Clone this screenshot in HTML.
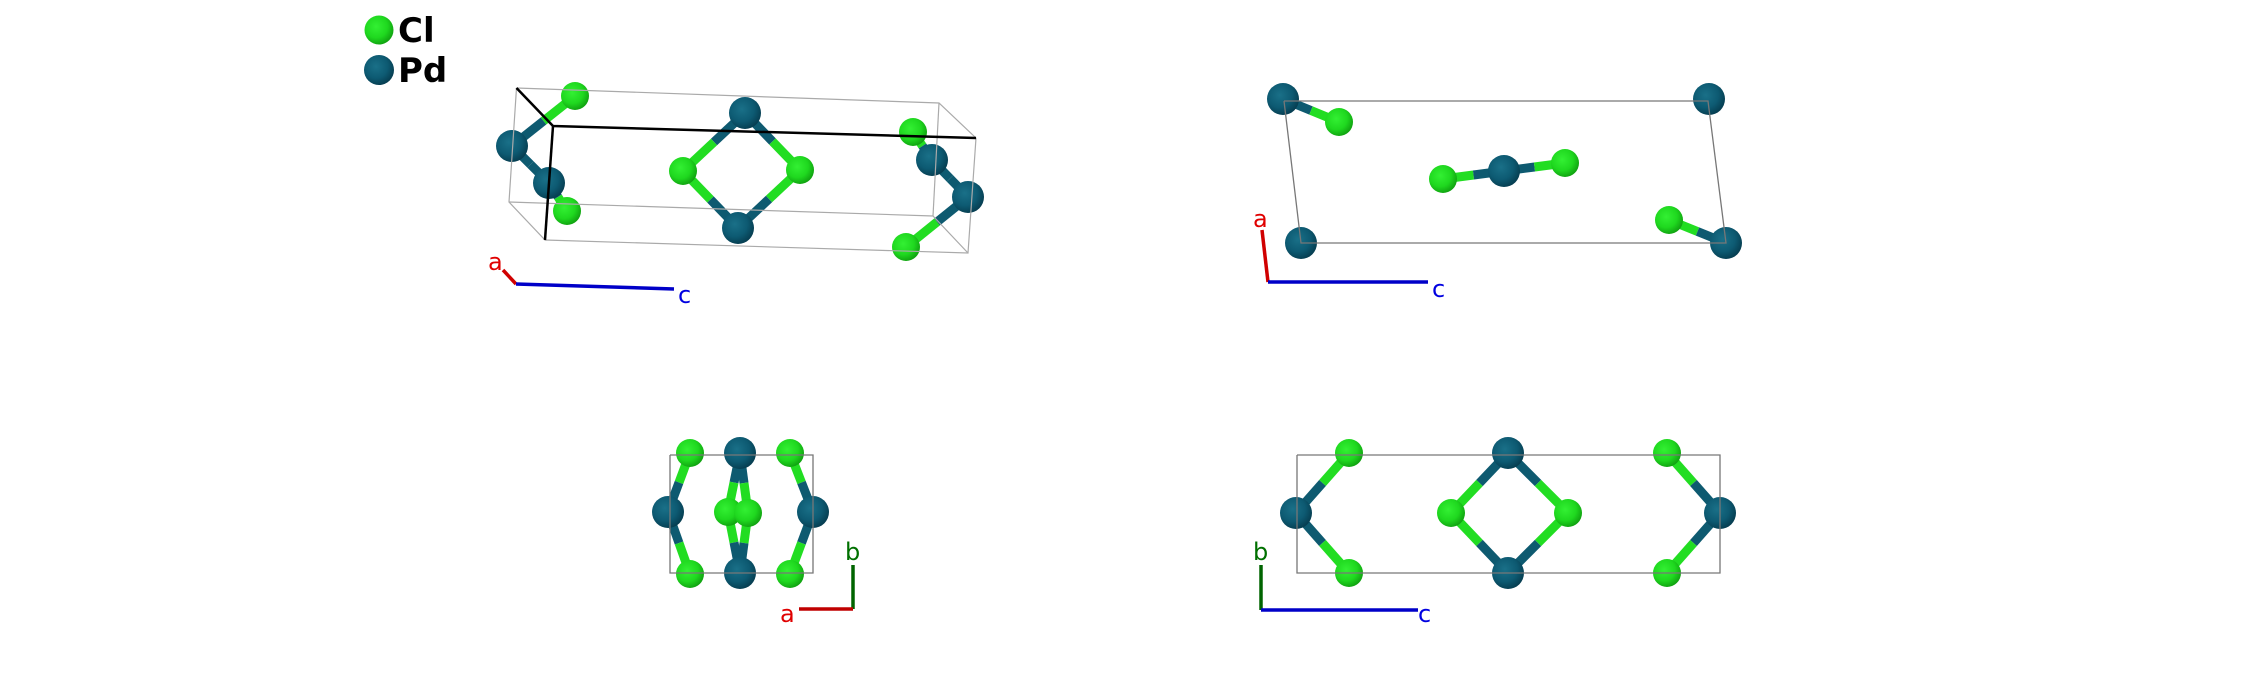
<!DOCTYPE html>
<html><head><meta charset="utf-8"><style>
html,body{margin:0;padding:0;background:#fff;width:2244px;height:686px;overflow:hidden}
svg{display:block}
text{font-family:"DejaVu Sans","Liberation Sans",sans-serif}
</style></head><body>
<svg id="s" width="2244" height="686" viewBox="0 0 2244 686" xmlns="http://www.w3.org/2000/svg">
<defs>
<radialGradient id="gcl" cx="0.4" cy="0.38" r="0.65"><stop offset="0" stop-color="#33f033"/><stop offset="0.6" stop-color="#1fd81f"/><stop offset="1" stop-color="#10a010"/></radialGradient>
<radialGradient id="gpd" cx="0.4" cy="0.38" r="0.65"><stop offset="0" stop-color="#1a7088"/><stop offset="0.6" stop-color="#0d5a72"/><stop offset="1" stop-color="#063d50"/></radialGradient>
</defs>
<g id="bonds"></g>
<g id="atoms"></g>
<g id="lines" fill="none"></g>
<g id="axes"></g>
<circle cx="379" cy="30" r="14.5" fill="url(#gcl)"/>
<circle cx="379" cy="70" r="15" fill="url(#gpd)"/>
<text x="398" y="42" font-size="34" font-weight="bold">Cl</text>
<text x="398" y="82" font-size="34" font-weight="bold">Pd</text>
<g font-size="24">
<text x="488" y="270" fill="#e00000">a</text>
<text x="678" y="303" fill="#0000e0">c</text>
<text x="1253" y="227" fill="#e00000">a</text>
<text x="1432" y="297" fill="#0000e0">c</text>
<text x="845" y="560" fill="#007000">b</text>
<text x="780" y="622" fill="#e00000">a</text>
<text x="1253" y="560" fill="#007000">b</text>
<text x="1418" y="622" fill="#0000e0">c</text>
</g>
</svg>
<script>
var NS="http://www.w3.org/2000/svg";
function el(p,t,a){var e=document.createElementNS(NS,t);for(var k in a)e.setAttribute(k,a[k]);document.getElementById(p).appendChild(e);return e;}
var CL="#22dd22",PD="#0e5a70";
var atoms=[];
function A(x,y,t){atoms.push([x,y,t]);return [x,y,t];}
function B(a,b){var mx=(a[0]+b[0])/2,my=(a[1]+b[1])/2;
 el("bonds","line",{x1:a[0],y1:a[1],x2:mx,y2:my,stroke:a[2]=="c"?CL:PD,"stroke-width":9});
 el("bonds","line",{x1:mx,y1:my,x2:b[0],y2:b[1],stroke:b[2]=="c"?CL:PD,"stroke-width":9});}
// view 1
var a1=A(575,96,"c"),a2=A(512,146,"p"),a3=A(549,183,"p"),a4=A(567,211,"c");
B(a1,a2);B(a2,a3);B(a3,a4);
var b1=A(745,113,"p"),b2=A(683,171,"c"),b3=A(800,170,"c"),b4=A(738,228,"p");
B(b1,b2);B(b1,b3);B(b2,b4);B(b3,b4);
var c1=A(913,132,"c"),c2=A(932,160,"p"),c3=A(968,197,"p"),c4=A(906,247,"c");
B(c1,c2);B(c2,c3);B(c3,c4);
// view 2
var d1=A(1283,99,"p"),d2=A(1339,122,"c");B(d1,d2);
A(1709,99,"p");
var e1=A(1669,220,"c"),e2=A(1726,243,"p");B(e1,e2);
A(1301,243,"p");
var f1=A(1443,179,"c"),f2=A(1504,171,"p"),f3=A(1565,163,"c");B(f1,f2);B(f2,f3);
// view 3
var g1=A(690,453,"c"),g2=A(668,512,"p"),g3=A(690,574,"c");B(g1,g2);B(g2,g3);
var h1=A(790,453,"c"),h2=A(813,512,"p"),h3=A(790,574,"c");B(h1,h2);B(h2,h3);
var i1=A(740,453,"p"),i2=A(728,512,"c"),i3=A(748,513,"c"),i4=A(740,573,"p");
B(i1,i2);B(i1,i3);B(i2,i4);B(i3,i4);
// view 4
var j1=A(1349,453,"c"),j2=A(1296,513,"p"),j3=A(1349,573,"c");B(j1,j2);B(j2,j3);
var k1=A(1667,453,"c"),k2=A(1720,513,"p"),k3=A(1667,573,"c");B(k1,k2);B(k2,k3);
var l1=A(1508,453,"p"),l2=A(1451,513,"c"),l3=A(1568,513,"c"),l4=A(1508,573,"p");
B(l1,l2);B(l1,l3);B(l2,l4);B(l3,l4);
atoms.forEach(function(a){el("atoms","circle",{cx:a[0],cy:a[1],r:a[2]=="c"?14:16,fill:a[2]=="c"?"url(#gcl)":"url(#gpd)"});});
function L(pts,c,w){el("lines","polyline",{points:pts,stroke:c,"stroke-width":w});}
var G="#999";
L("516.5,88 939,103 976,138","#aaa",1.2);
L("516.5,88 509,202 545,240 968,253 976,138","#aaa",1.2);
L("509,202 933,216 968,253","#aaa",1.2);
L("939,103 933,216","#aaa",1.2);
L("516.5,88 553,126 976,138","#000",2.5);
L("553,126 545,240","#000",2.5);
L("1284,101 1708,101 1726,243 1301,243 1284,101","#777",1.3);
L("670,455 813,455 813,573 670,573 670,455","#777",1.3);
L("1297,455 1720,455 1720,573 1297,573 1297,455","#777",1.3);
function X(x1,y1,x2,y2,c){el("axes","line",{x1:x1,y1:y1,x2:x2,y2:y2,stroke:c,"stroke-width":3.5});}
X(516,284,503,270,"#d00000");X(516,284,674,289,"#0000c8");
X(1268,282,1262,230,"#d00000");X(1268,282,1428,282,"#0000c8");
X(853,609,853,565,"#006400");X(853,609,799,609,"#c00000");
X(1261,610,1261,565,"#006400");X(1261,610,1418,610,"#0000c8");
</script>
</body></html>
